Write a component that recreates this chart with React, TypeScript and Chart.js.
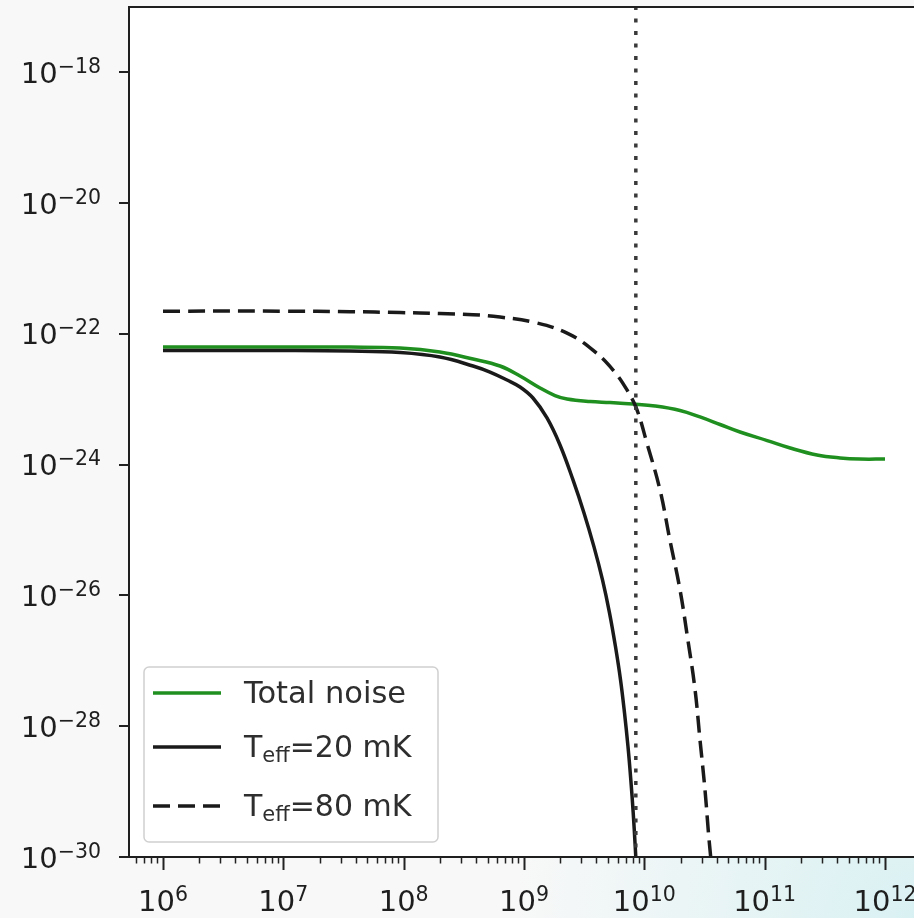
import React, { useEffect, useRef } from "react";
import { Chart, registerables } from "chart.js";

Chart.register(...registerables);

// ---------------- data ----------------
const FREQ_TOTAL = [1e6, 1e7, 3.58e7, 9.33e7, 2.0e8, 3.77e8, 6.32e8, 9.27e8, 1.36e9, 1.81e9, 2.28e9, 3.54e9, 5.19e9, 8.06e9, 1.23e10, 1.98e10, 2.9e10, 4.26e10, 6.24e10, 1.05e11, 1.63e11, 2.72e11, 4.23e11, 6.2e11, 1e12];
const NOISE_TOTAL = [6.29e-23, 6.29e-23, 6.29e-23, 6.08e-23, 5.28e-23, 4.13e-23, 3.23e-23, 2.27e-23, 1.49e-23, 1.14e-23, 1.01e-23, 9.25e-24, 8.93e-24, 8.48e-24, 7.9e-24, 6.75e-24, 5.37e-24, 4.12e-24, 3.16e-24, 2.34e-24, 1.8e-24, 1.41e-24, 1.27e-24, 1.22e-24, 1.22e-24];

const FREQ_20MK = [1e6, 1e7, 3.58e7, 9.33e7, 2.0e8, 3.77e8, 5.22e8, 7.23e8, 9.27e8, 1.188e9, 1.553e9, 1.992e9, 2.555e9, 3.153e9, 3.818e9, 4.493e9, 5.136e9, 5.762e9, 6.34e9, 6.843e9, 7.317e9, 7.72e9, 8.082e9, 8.4e9, 8.696e9];
const NOISE_20MK = [5.56e-23, 5.56e-23, 5.47e-23, 5.19e-23, 4.43e-23, 3.23e-23, 2.61e-23, 1.97e-23, 1.542e-23, 1.047e-23, 5.18e-24, 2.0e-24, 5.85e-25, 1.83e-25, 5.54e-26, 1.73e-26, 5.43e-27, 1.64e-27, 5.15e-28, 1.61e-28, 4.88e-29, 1.53e-29, 4.79e-30, 1.45e-30, 4.54e-31];

const FREQ_80MK = [1e6, 1e7, 3.58e7, 9.33e7, 2.0e8, 3.77e8, 6.32e8, 1.19e9, 2.28e9, 3.74e9, 5.5e9, 7.18e9, 8.69e9, 1.05e10, 1.35e10, 1.63e10, 1.98e10, 2.3e10, 2.64e10, 2.9e10, 3.19e10, 3.45e10, 3.72e10];
const NOISE_80MK = [2.23e-22, 2.23e-22, 2.19e-22, 2.12e-22, 2.05e-22, 1.97e-22, 1.81e-22, 1.52e-22, 1.03e-22, 5.66e-23, 2.8e-23, 1.39e-23, 6.87e-24, 2.15e-24, 4.11e-25, 7.09e-26, 1.22e-26, 2.1e-27, 3.62e-28, 6.24e-29, 1.08e-29, 1.85e-30, 4.5e-31];

const MARKER_FREQ = 8.5e9;

const SERIES_LABELS = ["Total noise", "T_{eff}=20 mK", "T_{eff}=80 mK"];

const X_MIN = 5.22e5;
const X_MAX = 1.742e12;
const Y_MIN = 1e-30;
const Y_MAX = 1e-17;

const X_MAJOR_TICKS = [1e6, 1e7, 1e8, 1e9, 1e10, 1e11, 1e12];
const X_TICK_EXPONENTS = ["6", "7", "8", "9", "10", "11", "12"];
const Y_MAJOR_TICKS = [1e-30, 1e-28, 1e-26, 1e-24, 1e-22, 1e-20, 1e-18];
const Y_TICK_EXPONENTS = ["\u221230", "\u221228", "\u221226", "\u221224", "\u221222", "\u221220", "\u221218"];

// ---------------- styles ----------------
const FONT = '"DejaVu Sans", "Liberation Sans", sans-serif';
const GREEN = "#1f8f1f";
const BLACK = "#1a1a1a";
const DOT = "#3a3a3a";

function xMinorTicks(): number[] {
  const out: number[] = [];
  for (let e = 5; e <= 12; e++) {
    for (let m = 2; m <= 9; m++) {
      const v = m * Math.pow(10, e);
      if (v >= X_MIN && v <= X_MAX) out.push(v);
    }
  }
  return out;
}

function drawPow(ctx: CanvasRenderingContext2D, base: string, exp: string, x: number, y: number, align: "center" | "right") {
  const baseFont = `29px ${FONT}`;
  const supFont = `20.5px ${FONT}`;
  ctx.font = baseFont;
  const wb = ctx.measureText(base).width;
  ctx.font = supFont;
  const we = ctx.measureText(exp).width;
  const total = wb + we;
  const x0 = align === "center" ? x - total / 2 : x - total;
  ctx.textAlign = "left";
  ctx.textBaseline = "alphabetic";
  ctx.font = baseFont;
  ctx.fillText(base, x0, y);
  ctx.font = supFont;
  ctx.fillText(exp, x0 + wb, y - 10);
}

const decorPlugin = {
  id: "decor",
  beforeDraw(chart: any) {
    const { ctx, width, height, chartArea: a } = chart;
    ctx.save();
    ctx.fillStyle = "#f8f8f8";
    ctx.fillRect(0, 0, width, height);
    const g = ctx.createRadialGradient(width, height, 0, width, height, 400);
    g.addColorStop(0, "rgba(214,240,242,0.9)");
    g.addColorStop(1, "rgba(214,240,242,0)");
    ctx.fillStyle = g;
    ctx.fillRect(0, 0, width, height);
    ctx.fillStyle = "#ffffff";
    ctx.fillRect(a.left, a.top, a.right - a.left, a.bottom - a.top);
    ctx.restore();
  },
  afterDraw(chart: any) {
    const { ctx, chartArea: a, scales } = chart;
    const xs = scales.x;
    const ys = scales.y;
    ctx.save();

    // spines
    ctx.strokeStyle = "#1f1f1f";
    ctx.lineWidth = 2;
    ctx.lineJoin = "miter";
    ctx.beginPath();
    ctx.moveTo(a.right + 2, a.top);
    ctx.lineTo(a.left, a.top);
    ctx.lineTo(a.left, a.bottom);
    ctx.lineTo(a.right + 2, a.bottom);
    ctx.stroke();

    // x ticks
    ctx.strokeStyle = "#222";
    xs.ticks.forEach((t: any) => {
      const px = Math.round(xs.getPixelForValue(t.value)) + 0.5;
      ctx.lineWidth = t.major ? 2 : 1.5;
      ctx.beginPath();
      ctx.moveTo(px, a.bottom);
      ctx.lineTo(px, a.bottom + (t.major ? 13 : 6.5));
      ctx.stroke();
    });
    // y ticks
    ys.ticks.forEach((t: any) => {
      const py = Math.round(ys.getPixelForValue(t.value));
      ctx.lineWidth = 2;
      ctx.beginPath();
      ctx.moveTo(a.left, py);
      ctx.lineTo(a.left - 10, py);
      ctx.stroke();
    });

    // tick labels
    ctx.fillStyle = "#1e1e1e";
    X_MAJOR_TICKS.forEach((v, i) => {
      const px = xs.getPixelForValue(v);
      drawPow(ctx, "10", X_TICK_EXPONENTS[i], px, a.bottom + 53.5, "center");
    });
    Y_MAJOR_TICKS.forEach((v, i) => {
      const py = ys.getPixelForValue(v);
      drawPow(ctx, "10", Y_TICK_EXPONENTS[i], 101, py + 10.5, "right");
    });

    // legend
    const bx = a.left + 15;
    const by = a.bottom - 190;
    const bw = 294;
    const bh = 175;
    ctx.beginPath();
    (ctx as any).roundRect(bx, by, bw, bh, 5);
    ctx.fillStyle = "rgba(255,255,255,0.85)";
    ctx.fill();
    ctx.strokeStyle = "#d0d0d0";
    ctx.lineWidth = 1.5;
    ctx.stroke();

    const rows = [26, 80, 139];
    const ds = chart.data.datasets.filter((d: any) => d.legendIndex !== undefined);
    ds.sort((p: any, q: any) => p.legendIndex - q.legendIndex);
    ds.forEach((d: any, i: number) => {
      const ry = by + rows[i];
      ctx.save();
      ctx.strokeStyle = d.borderColor;
      ctx.lineWidth = d.borderWidth;
      ctx.setLineDash(d.borderDash || []);
      ctx.beginPath();
      ctx.moveTo(bx + 9, ry);
      ctx.lineTo(bx + 77, ry);
      ctx.stroke();
      ctx.restore();

      const label: string = d.label;
      const m = label.match(/^(.*?)_\{(.*?)\}(.*)$/);
      ctx.fillStyle = "#2e2e2e";
      ctx.textAlign = "left";
      ctx.textBaseline = "alphabetic";
      let tx = bx + 100;
      const base = ry + 10;
      if (m) {
        ctx.font = `30px ${FONT}`;
        ctx.fillText(m[1], tx, base);
        tx += ctx.measureText(m[1]).width;
        ctx.font = `21px ${FONT}`;
        ctx.fillText(m[2], tx, base + 4.5);
        tx += ctx.measureText(m[2]).width;
        ctx.font = `30px ${FONT}`;
        ctx.fillText(m[3], tx, base);
      } else {
        ctx.font = `30.5px ${FONT}`;
        ctx.fillText(label, tx, base);
      }
    });

    ctx.restore();
  },
};

function pts(xs: number[], ys: number[]) {
  return xs.map((x, i) => ({ x, y: ys[i] }));
}

export default function App() {
  const ref = useRef<HTMLCanvasElement | null>(null);

  useEffect(() => {
    if (!ref.current) return;
    const minors = xMinorTicks();
    const common = { pointRadius: 0, tension: 0.4, clip: 0, borderWidth: 3.5, borderJoinStyle: "round" };
    const chart = new Chart(ref.current, {
      type: "line",
      data: {
        datasets: [
          {
            label: "marker",
            data: [
              { x: MARKER_FREQ, y: Y_MIN / 10 },
              { x: MARKER_FREQ, y: Y_MAX * 10 },
            ],
            borderColor: DOT,
            borderWidth: 3.5,
            borderDash: [4, 8.5],
            pointRadius: 0,
            tension: 0,
            clip: 0,
          } as any,
          {
            ...common,
            label: SERIES_LABELS[2],
            legendIndex: 2,
            data: pts(FREQ_80MK, NOISE_80MK),
            borderColor: BLACK,
            borderDash: [17, 8],
          } as any,
          {
            ...common,
            label: SERIES_LABELS[1],
            legendIndex: 1,
            data: pts(FREQ_20MK, NOISE_20MK),
            borderColor: BLACK,
          } as any,
          {
            ...common,
            label: SERIES_LABELS[0],
            legendIndex: 0,
            data: pts(FREQ_TOTAL, NOISE_TOTAL),
            borderColor: GREEN,
          } as any,
        ],
      },
      options: {
        responsive: false,
        animation: false,
        devicePixelRatio: 1,
        layout: { padding: { top: 7, left: 0, right: 0, bottom: 0 } },
        plugins: { legend: { display: false }, tooltip: { enabled: false } },
        events: [],
        scales: {
          x: {
            type: "logarithmic",
            min: X_MIN,
            max: X_MAX,
            afterBuildTicks: (s: any) => {
              s.ticks = [
                ...X_MAJOR_TICKS.map((v) => ({ value: v, major: true })),
                ...minors.map((v) => ({ value: v, major: false })),
              ];
            },
            afterFit: (s: any) => {
              s.height = 61;
            },
            ticks: { display: false },
            grid: { display: false },
            border: { display: false },
          },
          y: {
            type: "logarithmic",
            min: Y_MIN,
            max: Y_MAX,
            afterBuildTicks: (s: any) => {
              s.ticks = Y_MAJOR_TICKS.map((v) => ({ value: v, major: true }));
            },
            afterFit: (s: any) => {
              s.width = 129;
            },
            ticks: { display: false },
            grid: { display: false },
            border: { display: false },
          },
        },
      } as any,
      plugins: [decorPlugin],
    });
    return () => chart.destroy();
  }, []);

  return (
    <div style={{ position: "fixed", left: 0, top: 0, width: 914, height: 918, overflow: "hidden" }}>
      <canvas ref={ref} width={914} height={918} style={{ display: "block", width: 914, height: 918 }} />
    </div>
  );
}
